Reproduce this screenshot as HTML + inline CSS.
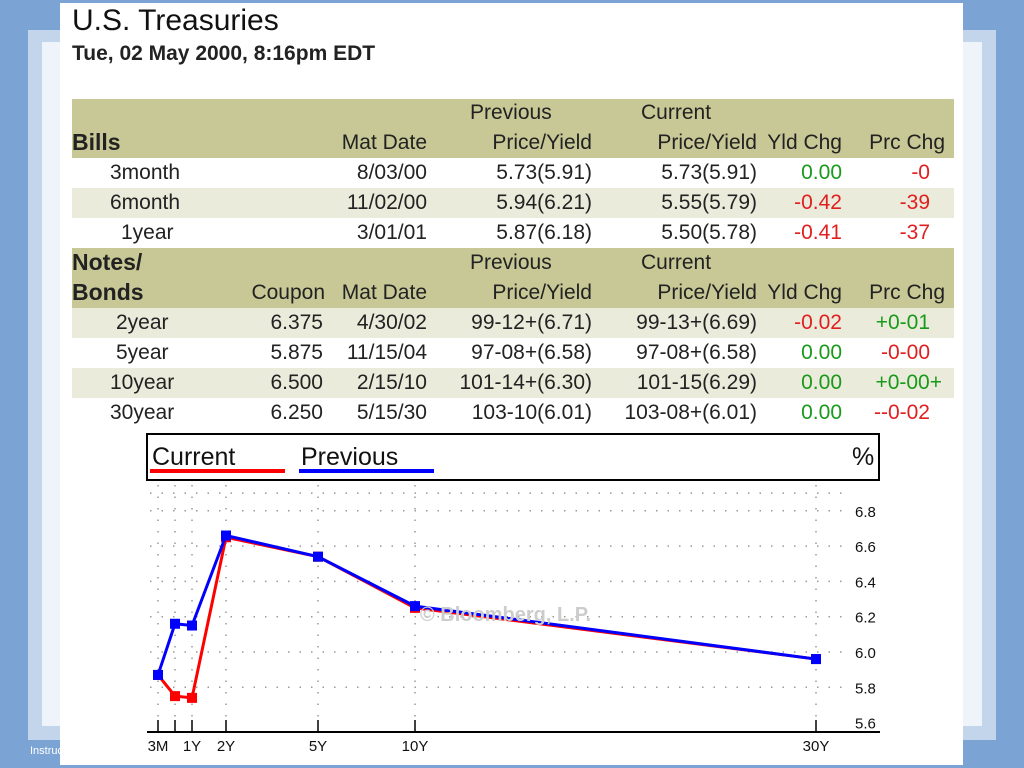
<!DOCTYPE html>
<html><head><meta charset="utf-8"><style>
body{margin:0;width:1024px;height:768px;background:#7ba4d4;position:relative;overflow:hidden;font-family:"Liberation Sans",sans-serif}
.abs{position:absolute}
.row{position:absolute;left:72px;width:882px;height:30px;font-size:21px;color:#222}
.row span{position:absolute;top:3px;white-space:nowrap}
.r{text-align:right}
.g{color:#1a9a1a}.rd{color:#e02020}
.hdr{background:#c8c896}
.band{background:#ebebdc}
b{font-size:23px;color:#222}
</style></head><body>
<div class="abs" style="left:28px;top:30px;width:968px;height:710px;background:#c2d5ea"></div>
<div class="abs" style="left:42px;top:42px;width:940px;height:684px;background:#eef4fa"></div>
<div class="abs" style="left:30px;top:745px;font-size:11px;color:#fff">Instructor</div>
<div class="abs" style="left:60px;top:3px;width:903px;height:762px;background:#fff"></div>
<div class="abs" style="left:72px;top:4px;font-size:30px;color:#111">U.S. Treasuries</div>
<div class="abs" style="left:72px;top:42px;font-size:21px;font-weight:bold;color:#222">Tue, 02 May 2000, 8:16pm EDT</div>

<div class="row hdr" style="top:99px;height:59px">
<span style="left:0;top:30px"><b>Bills</b></span>
<span class="r" style="right:527px;top:32px">Mat Date</span>
<span style="left:398px;top:2px">Previous</span><span class="r" style="right:362px;top:32px">Price/Yield</span>
<span style="left:569px;top:2px">Current</span><span class="r" style="right:197px;top:32px">Price/Yield</span>
<span class="r" style="right:112px;top:32px">Yld Chg</span><span class="r" style="right:9px;top:32px">Prc Chg</span>
</div>
<div class="row" style="top:158px"><span style="left:38px">3month</span><span class="r" style="right:527px">8/03/00</span><span style="right:362px">5.73(5.91)</span><span style="right:197px">5.73(5.91)</span><span class="g" style="right:112px">0.00</span><span class="rd" style="right:24px">-0</span></div>
<div class="row band" style="top:188px"><span style="left:38px">6month</span><span style="right:527px">11/02/00</span><span style="right:362px">5.94(6.21)</span><span style="right:197px">5.55(5.79)</span><span class="rd" style="right:112px">-0.42</span><span class="rd" style="right:24px">-39</span></div>
<div class="row" style="top:218px"><span style="left:49px">1year</span><span style="right:527px">3/01/01</span><span style="right:362px">5.87(6.18)</span><span style="right:197px">5.50(5.78)</span><span class="rd" style="right:112px">-0.41</span><span class="rd" style="right:24px">-37</span></div>
<div class="row hdr" style="top:248px;height:60px">
<span style="left:0;top:1px"><b>Notes/</b></span><span style="left:0;top:31px"><b>Bonds</b></span>
<span style="right:629px;top:33px">Coupon</span><span style="right:527px;top:33px">Mat Date</span>
<span style="left:398px;top:3px">Previous</span><span style="right:362px;top:33px">Price/Yield</span>
<span style="left:569px;top:3px">Current</span><span style="right:197px;top:33px">Price/Yield</span>
<span style="right:112px;top:33px">Yld Chg</span><span style="right:9px;top:33px">Prc Chg</span>
</div>
<div class="row band" style="top:308px"><span style="left:44px">2year</span><span style="right:631px">6.375</span><span style="right:527px">4/30/02</span><span style="right:362px">99-12+(6.71)</span><span style="right:197px">99-13+(6.69)</span><span class="rd" style="right:112px">-0.02</span><span class="g" style="right:24px">+0-01</span></div>
<div class="row" style="top:338px"><span style="left:44px">5year</span><span style="right:631px">5.875</span><span style="right:527px">11/15/04</span><span style="right:362px">97-08+(6.58)</span><span style="right:197px">97-08+(6.58)</span><span class="g" style="right:112px">0.00</span><span class="rd" style="right:24px">-0-00</span></div>
<div class="row band" style="top:368px"><span style="left:38px">10year</span><span style="right:631px">6.500</span><span style="right:527px">2/15/10</span><span style="right:362px">101-14+(6.30)</span><span style="right:197px">101-15(6.29)</span><span class="g" style="right:112px">0.00</span><span class="g" style="right:12px">+0-00+</span></div>
<div class="row" style="top:398px"><span style="left:38px">30year</span><span style="right:631px">6.250</span><span style="right:527px">5/15/30</span><span style="right:362px">103-10(6.01)</span><span style="right:197px">103-08+(6.01)</span><span class="g" style="right:112px">0.00</span><span class="rd" style="right:24px">--0-02</span></div>

<svg class="abs" style="left:0;top:0" width="1024" height="768">
<rect x="147" y="434" width="732" height="46" fill="#fff" stroke="#000" stroke-width="2"/>
<text x="152" y="465" font-size="25" fill="#111">Current</text>
<rect x="150" y="469" width="135" height="4" fill="#f00"/>
<text x="301" y="465" font-size="25" fill="#111">Previous</text>
<rect x="299" y="469" width="135" height="4" fill="#00f"/>
<text x="852" y="465" font-size="25" fill="#111">%</text>
<g id="grid"></g><g id="axis"></g><g id="series"></g>
<text x="420" y="621" font-size="20" font-weight="bold" fill="#ccc">© Bloomberg, L.P.</text>
</svg>
<script>
const tenors=["3M","6M","1Y","2Y","5Y","10Y","30Y"];
const tenorYears=[0.25,0.5,0.75,2,5,10,30];
const tickLabels=["3M","1Y","2Y","5Y","10Y","30Y"];
const currentYield=[5.87,5.75,5.74,6.65,6.54,6.25,5.96];
const previousYield=[5.87,6.16,6.15,6.66,6.54,6.26,5.96];
const yTicks=[5.6,5.8,6.0,6.2,6.4,6.6,6.8];
const xPix={"3M":158,"6M":175,"1Y":192,"2Y":226,"5Y":318,"10Y":415,"30Y":816};
function xs(t){return xPix[t];}
function ys(v){return 652-(v-6)*176.5;}
const NS="http://www.w3.org/2000/svg";
function mk(tag,at,parent){const e=document.createElementNS(NS,tag);for(const k in at)e.setAttribute(k,at[k]);document.getElementById(parent).appendChild(e);return e;}
// grid dots
[6.9].concat(yTicks.slice(1)).forEach(v=>{
 const l=mk("line",{x1:150,x2:850,y1:ys(v),y2:ys(v),stroke:"#999","stroke-width":1.5,"stroke-dasharray":"1.5 10"},"grid");
 
 
});
tenors.forEach(t=>{
 const l=mk("line",{x1:xs(t),x2:xs(t),y1:485,y2:722,stroke:"#999","stroke-width":1.5,"stroke-dasharray":"1.5 10"},"grid");
 
 
});
const ax=mk("line",{x1:147,x2:880,y1:732,y2:732,stroke:"#000","stroke-width":2},"axis");


tenors.forEach(t=>{
 const tk=mk("line",{x1:xs(t),x2:xs(t),y1:720,y2:732,stroke:"#000","stroke-width":1.5},"axis");
 
 
});
tickLabels.forEach(t=>{
 const tx=mk("text",{x:xs(t),y:751,"font-size":15,"text-anchor":"middle",fill:"#111"},"axis");
 tx.textContent=t;
 
 
});
yTicks.forEach(v=>{
 const tx=mk("text",{x:855,y:ys(v)+6,"font-size":15,fill:"#111"},"axis");
 tx.textContent=v.toFixed(1);
 
 
});
function series(vals,color,name){
 const pts=tenors.map((t,i)=>xs(t)+","+ys(vals[i])).join(" ");
 const pl=mk("polyline",{points:pts,fill:"none",stroke:color,"stroke-width":3},"series");
 
 
 tenors.forEach((t,i)=>{
  const r=mk("rect",{x:xs(t)-5,y:ys(vals[i])-5,width:10,height:10,fill:color},"series");
  
  
 });
}
series(currentYield,"#f00","current");
series(previousYield,"#00f","previous");
</script>
</body></html>
